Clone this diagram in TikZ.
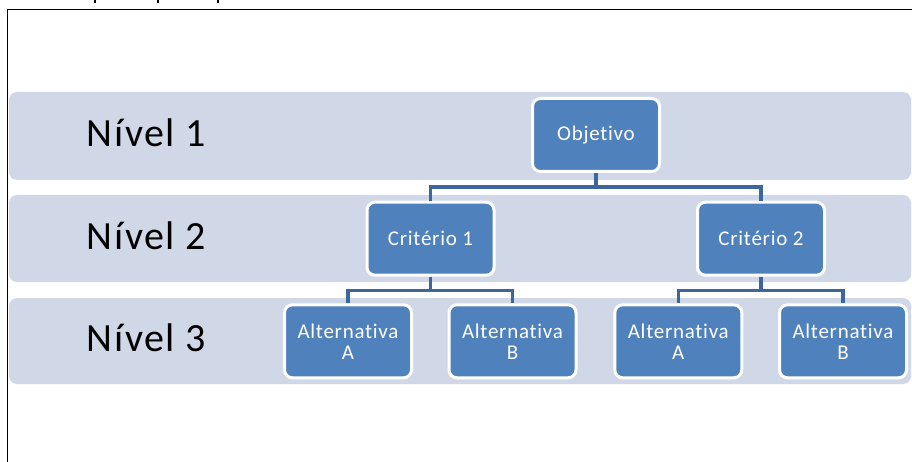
\documentclass[tikz,border=0pt]{standalone}
\usepackage{fontspec}
\setmainfont{Carlito}
\newfontfamily\lvlfont[LetterSpace=4,Ligatures=NoCommon]{Carlito}
\newfontfamily\boxfont[LetterSpace=3.5,Ligatures=NoCommon]{Carlito}
\definecolor{bandc}{HTML}{D0D8E8}
\definecolor{boxc}{HTML}{4F81BD}
\definecolor{linec}{RGB}{62,102,158}
\tikzset{
  band/.style={fill=bandc, draw=none, rounded corners=8pt},
  hbox/.style={rectangle, rounded corners=8pt, fill=boxc, draw=white, line width=3pt,
    minimum width=127pt, minimum height=73pt, inner sep=0pt, outer sep=1.5pt,
    text=white, align=center, font=\boxfont\fontsize{21}{21}\selectfont},
  lvl/.style={anchor=base west, inner sep=0pt, font=\lvlfont\fontsize{40}{40}\selectfont},
  conn/.style={draw=linec, line width=3.2pt},
  frame/.style={draw=black, line width=1.6pt},
}
\begin{document}
\begin{tikzpicture}[x=1pt,y=-1pt]
\useasboundingbox (0,0) rectangle (912,462);
% frame
\draw[frame] (7.5,462) -- (7.5,9.5) -- (912,9.5);
% cut glyph tails at top
\foreach \xx in {95,157.7,217.7} \draw[black, line width=2pt] (\xx,0) -- (\xx,3);
% bands
\fill[band] (9,92) rectangle (911,180);
\fill[band] (9,195) rectangle (911,282);
\fill[band] (9,298) rectangle (911,384);
% level labels
\node[lvl] (n1) at (86.7,146.7) {Nível 1};
\node[lvl] (n2) at (86.7,249.4) {Nível 2};
\node[lvl] (n3) at (86.7,351.7) {Nível 3};
% boxes
\node[hbox] (obj) at (596,135) {Objetivo};
\node[hbox] (c1) at (430.5,238.7) {Critério 1};
\node[hbox] (c2) at (761,238.7) {Critério 2};
\node[hbox] (a1) at (348,341.3) {Alternativa\\A};
\node[hbox] (b1) at (512.5,341.3) {Alternativa\\B};
\node[hbox] (a2) at (678.3,341.3) {Alternativa\\A};
\node[hbox] (b2) at (843,341.3) {Alternativa\\B};
% connectors
\draw[conn] (obj.south) -- ++(0,14) -| (c1.north);
\draw[conn] (obj.south) -- ++(0,14) -| (c2.north);
\draw[conn] (c1.south) -- ++(0,14) -| (a1.north);
\draw[conn] (c1.south) -- ++(0,14) -| (b1.north);
\draw[conn] (c2.south) -- ++(0,14) -| (a2.north);
\draw[conn] (c2.south) -- ++(0,14) -| (b2.north);
\end{tikzpicture}
\end{document}
